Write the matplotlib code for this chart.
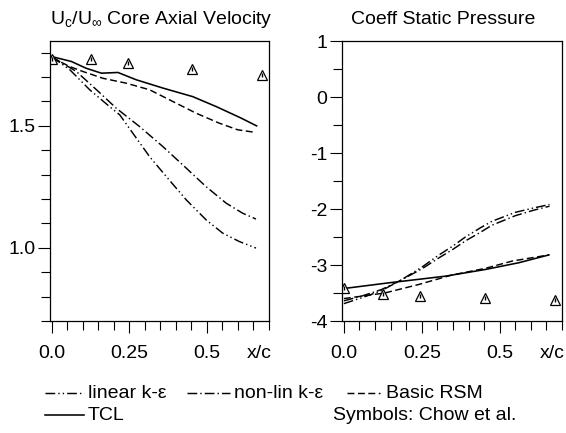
import matplotlib
matplotlib.use("Agg")
import matplotlib.pyplot as plt
from matplotlib.lines import Line2D

plt.rcParams['font.family'] = ['Liberation Sans', 'DejaVu Sans']
plt.rcParams['axes.unicode_minus'] = False
plt.rcParams['lines.scale_dashes'] = False
plt.rcParams['mathtext.fontset'] = 'custom'
plt.rcParams['mathtext.rm'] = 'Liberation Sans'
plt.rcParams['mathtext.it'] = 'Liberation Sans'

# ---------------- data ----------------
# Left panel: core axial velocity Uc/Uinf vs x/c
vel_lin_x = [0.0, 0.058, 0.122, 0.186, 0.219, 0.261, 0.315, 0.369, 0.433, 0.497, 0.551, 0.604, 0.658]
vel_lin_y = [1.783, 1.73, 1.648, 1.579, 1.545, 1.47, 1.374, 1.292, 1.197, 1.115, 1.06, 1.026, 0.999]

vel_nl_x = [0.0, 0.079, 0.144, 0.208, 0.283, 0.358, 0.433, 0.497, 0.562, 0.615, 0.658]
vel_nl_y = [1.783, 1.723, 1.648, 1.572, 1.497, 1.415, 1.327, 1.251, 1.183, 1.142, 1.118]

vel_rsm_x = [0.0, 0.058, 0.1, 0.165, 0.24, 0.315, 0.379, 0.465, 0.54, 0.599, 0.658]
vel_rsm_y = [1.78, 1.743, 1.723, 1.695, 1.675, 1.648, 1.607, 1.552, 1.511, 1.484, 1.473]

vel_tcl_x = [0.0, 0.063, 0.111, 0.16, 0.213, 0.272, 0.358, 0.454, 0.53, 0.61, 0.66]
vel_tcl_y = [1.784, 1.764, 1.736, 1.716, 1.719, 1.689, 1.655, 1.62, 1.579, 1.532, 1.5]

exp_x = [0.0, 0.125, 0.245, 0.452, 0.676]
vel_exp_y = [1.773, 1.773, 1.759, 1.732, 1.709]

# Right panel: static pressure coefficient vs x/c
cp_x = [0.0, 0.06, 0.12, 0.18, 0.25, 0.3, 0.35, 0.39, 0.44, 0.475, 0.55, 0.61, 0.66]
cp_lin_y = [-3.69, -3.58, -3.46, -3.28, -3.04, -2.84, -2.66, -2.5, -2.33, -2.22, -2.06, -1.98, -1.92]
cp_nl_y = [-3.64, -3.55, -3.44, -3.28, -3.07, -2.89, -2.72, -2.57, -2.41, -2.29, -2.12, -2.02, -1.95]

cp_rsm_x = [0.0, 0.131, 0.239, 0.346, 0.454, 0.54, 0.658]
cp_rsm_y = [-3.6, -3.5, -3.35, -3.18, -3.06, -2.93, -2.82]

cp_tcl_x = [0.0, 0.142, 0.325, 0.454, 0.561, 0.658]
cp_tcl_y = [-3.42, -3.32, -3.2, -3.08, -2.96, -2.82]

cp_exp_y = [-3.41, -3.52, -3.56, -3.59, -3.63]

x_ticks = [0.0, 0.25, 0.5]
x_ticklabels = ['0.0', '0.25', '0.5']
vel_ticks = [1.0, 1.5]
vel_ticklabels = ['1.0', '1.5']
cp_ticks = [-4, -3, -2, -1, 0, 1]
cp_ticklabels = ['-4', '-3', '-2', '-1', '0', '1']

# ---------------- styles ----------------
LW = 1.05
st_lin = dict(color='black', lw=LW, dashes=(7, 2.2, 1, 2.2, 1, 2.2))
st_nl = dict(color='black', lw=LW, dashes=(7, 2.2, 1, 2.2))
st_rsm = dict(color='black', lw=LW, dashes=(5, 2.5))
st_tcl = dict(color='black', lw=LW + 0.1, ls='-')

W, H = 566, 433
fig = plt.figure(figsize=(W / 100, H / 100), dpi=100)

def fx(px):
    return px / W

def fy(py):
    return 1 - py / H

ax1 = fig.add_axes([fx(50), fy(321), fx(269) - fx(50), fy(41) - fy(321)])
ax2 = fig.add_axes([fx(342), fy(321), fx(562) - fx(342), fy(41) - fy(321)])

FS = 14

def style_axes(ax):
    for s in ax.spines.values():
        s.set_linewidth(0.9)
    ax.set_xlim(-0.006, 0.7)
    ax.set_xticks(x_ticks + [0.668])
    ax.set_xticklabels(x_ticklabels + ['x/c'])
    ax.set_xticks([i * 0.05 for i in range(15)], minor=True)
    ax.xaxis.get_major_ticks()[-1].tick1line.set_visible(False)
    ax.tick_params(axis='x', which='major', direction='out', length=8.5, width=0.8,
                   labelsize=FS, pad=8.5)
    ax.tick_params(axis='x', which='minor', direction='out', length=6.5, width=0.8)
    ax.tick_params(axis='y', which='major', direction='out', length=8.5, width=0.8,
                   labelsize=FS, pad=2)
    ax.tick_params(axis='y', which='minor', direction='out', length=6.5, width=0.8)

# left panel
ax1.plot(vel_lin_x, vel_lin_y, **st_lin)
ax1.plot(vel_nl_x, vel_nl_y, **st_nl)
ax1.plot(vel_rsm_x, vel_rsm_y, **st_rsm)
ax1.plot(vel_tcl_x, vel_tcl_y, **st_tcl)
ax1.plot(exp_x, vel_exp_y, ls='none', marker='^', ms=6.5, mfc='white', mec='black', mew=0.9)
ax1.plot(exp_x, vel_exp_y, ls='none', marker='|', ms=3, mec='black', mew=1.0)
ax1.set_ylim(0.7, 1.848)
style_axes(ax1)
ax1.set_yticks(vel_ticks)
ax1.set_yticklabels(vel_ticklabels)
ax1.set_yticks([0.7 + 0.1 * i for i in range(12)], minor=True)

# right panel
ax2.plot(cp_x, cp_lin_y, **st_lin)
ax2.plot(cp_x, cp_nl_y, **st_nl)
ax2.plot(cp_rsm_x, cp_rsm_y, **st_rsm)
ax2.plot(cp_tcl_x, cp_tcl_y, **st_tcl)
ax2.plot(exp_x, cp_exp_y, ls='none', marker='^', ms=6.5, mfc='white', mec='black', mew=0.9)
ax2.plot(exp_x, cp_exp_y, ls='none', marker='|', ms=3, mec='black', mew=1.0)
ax2.set_ylim(-4, 1)
style_axes(ax2)
ax2.set_yticks(cp_ticks)
ax2.set_yticklabels(cp_ticklabels)
ax2.set_yticks([-4 + 0.5 * i for i in range(11)], minor=True)

# titles
fig.text(fx(161), fy(20), r'U$_{\mathrm{c}}$/U$_{\infty}$ Core Axial Velocity', ha='center',
         va='center', fontsize=FS)
fig.text(fx(443), fy(20), 'Coeff Static Pressure', ha='center', va='center', fontsize=FS)

# legend (manual)
def leg_line(x0, x1, py, st):
    fig.add_artist(Line2D([fx(x0), fx(x1)], [fy(py), fy(py)], transform=fig.transFigure, **st))

leg_line(45, 84, 393, st_lin)
fig.text(fx(88), fy(394), 'linear k-ε', ha='left', va='center', fontsize=FS)
leg_line(187, 230, 393, st_nl)
fig.text(fx(234), fy(394), 'non-lin k-ε', ha='left', va='center', fontsize=FS)
leg_line(347, 380, 393, st_rsm)
fig.text(fx(386), fy(394), 'Basic RSM', ha='left', va='center', fontsize=FS)
leg_line(45, 84, 415, st_tcl)
fig.text(fx(88), fy(416), 'TCL', ha='left', va='center', fontsize=FS)
fig.text(fx(333), fy(416), 'Symbols: Chow et al.', ha='left', va='center', fontsize=FS)

fig.savefig('out.png', dpi=100)
